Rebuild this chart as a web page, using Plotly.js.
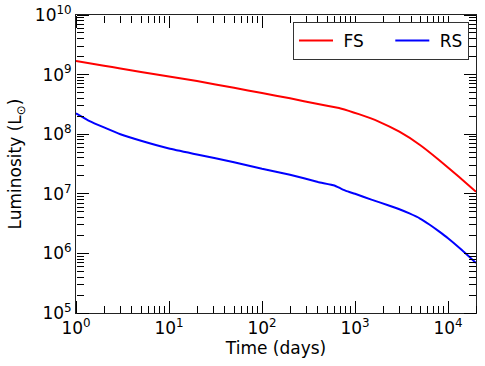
<!DOCTYPE html>
<html>
<head>
<meta charset="utf-8">
<script src="https://cdn.plot.ly/plotly-3.0.1.min.js"></script>
<style>html,body{margin:0;padding:0;background:#fff;}#chart{width:485px;height:366px;}#ov{position:absolute;left:80px;top:120px;width:10px;height:10px;pointer-events:none;}</style>
</head>
<body>
<div id="chart"></div>
<div id="ov"></div>
<script>
// Forward shock (FS): time in days and luminosity in L_sun
const fsDays = [1, 2, 3, 5, 10, 20, 50, 100, 200, 400, 630, 700, 1100, 1800, 3000, 5000, 8000, 13000, 20000];
const fsLum = [1.70e9, 1.41e9, 1.27e9, 1.11e9, 9.3e8, 7.8e8, 6.0e8, 4.9e8, 4.0e8, 3.2e8, 2.8e8, 2.7e8, 2.17e8, 1.63e8, 1.10e8, 6.6e7, 3.7e7, 1.95e7, 1.08e7];
// Reverse shock (RS)
const rsDays = [1, 1.4, 2, 3, 5, 10, 20, 50, 100, 200, 400, 600, 700, 800, 1000, 1500, 2350, 3000, 3850, 5000, 6300, 8000, 10000, 14000, 20000];
const rsLum = [2.24e8, 1.66e8, 1.30e8, 1.0e8, 7.76e7, 5.75e7, 4.57e7, 3.39e7, 2.63e7, 2.09e7, 1.58e7, 1.38e7, 1.23e7, 1.12e7, 1.0e7, 8.0e6, 6.3e6, 5.5e6, 4.68e6, 3.85e6, 3.05e6, 2.34e6, 1.80e6, 1.15e6, 6.9e5];

const seriesNames = ["FS", "RS"];
const xTickVals = [1, 10, 100, 1000, 10000];
const xTickText = ["10<sup>0</sup>", "10<sup>1</sup>", "10<sup>2</sup>", "10<sup>3</sup>", "10<sup>4</sup>"];
const yTickVals = [1e5, 1e6, 1e7, 1e8, 1e9, 1e10];
const yTickText = ["10<sup>5</sup>", "10<sup>6</sup>", "10<sup>7</sup>", "10<sup>8</sup>", "10<sup>9</sup>", "10<sup>10</sup>"];

const font = {family: "DejaVu Sans, sans-serif", color: "#000"};
const xRange = [0, Math.log10(20000)];
const yRange = [5, 10];
const tickColor = "#000";

const traces = [
  {x: fsDays, y: fsLum, name: "\u00a0" + seriesNames[0] + "\u00a0\u00a0\u00a0\u00a0", mode: "lines", line: {color: "#ff0000", width: 2, shape: "spline", smoothing: 0.4}},
  {x: rsDays, y: rsLum, name: "\u00a0" + seriesNames[1], mode: "lines", line: {color: "#0000ff", width: 2, shape: "spline", smoothing: 0.4}},
  // invisible helpers so the tick-only axes are drawn
  {x: fsDays, y: fsLum, xaxis: "x2", yaxis: "y", mode: "lines", line: {width: 0}, showlegend: false, hoverinfo: "skip"},
  {x: fsDays, y: fsLum, xaxis: "x3", yaxis: "y", mode: "lines", line: {width: 0}, showlegend: false, hoverinfo: "skip"},
  {x: fsDays, y: fsLum, xaxis: "x", yaxis: "y2", mode: "lines", line: {width: 0}, showlegend: false, hoverinfo: "skip"},
  {x: fsDays, y: fsLum, xaxis: "x", yaxis: "y3", mode: "lines", line: {width: 0}, showlegend: false, hoverinfo: "skip"}
];

// tick-only axes: their outside ticks point into the plot from each frame edge
function tickAxis(extra) {
  return Object.assign({
    type: "log", showgrid: false, showticklabels: false,
    anchor: "free", ticks: "outside", ticklen: 12, tickcolor: tickColor,
    minor: {ticks: "outside", ticklen: 7, tickcolor: tickColor, dtick: "D1"}
  }, extra);
}

const layout = {
  width: 485,
  height: 366,
  margin: {l: 76, r: 9, t: 15, b: 53},
  paper_bgcolor: "#fff",
  plot_bgcolor: "#fff",
  font: font,
  showlegend: true,
  xaxis: {
    type: "log", range: xRange, showgrid: false, zeroline: false,
    showline: true, mirror: true, linecolor: "#222", linewidth: 1,
    ticks: "", tickmode: "array", tickvals: xTickVals, ticktext: xTickText,
    tickfont: Object.assign({size: 17}, font),
    title: {text: "Time (days)", font: Object.assign({size: 17}, font), standoff: 3}
  },
  yaxis: {
    type: "log", range: yRange, showgrid: false, zeroline: false,
    showline: true, mirror: true, linecolor: "#222", linewidth: 1,
    ticks: "", tickmode: "array", tickvals: yTickVals, ticktext: yTickText,
    tickfont: Object.assign({size: 17}, font),
    title: {text: "Luminosity (L<sub>⊙</sub>)", font: Object.assign({size: 17}, font), standoff: 8}
  },
  xaxis2: tickAxis({overlaying: "x", matches: "x", range: xRange, side: "top", position: 0}),
  xaxis3: tickAxis({overlaying: "x", matches: "x", range: xRange, side: "bottom", position: 1}),
  yaxis2: tickAxis({overlaying: "y", matches: "y", range: yRange, side: "right", position: 0, dtick: 1}),
  yaxis3: tickAxis({overlaying: "y", matches: "y", range: yRange, side: "left", position: 1, dtick: 1}),
  legend: {
    orientation: "h",
    x: 0.9825, xanchor: "right",
    y: 0.9765, yanchor: "top",
    bgcolor: "#fff",
    bordercolor: "#333",
    borderwidth: 1,
    itemwidth: 34,
    font: Object.assign({size: 17}, font)
  }
};

Plotly.newPlot("chart", traces, layout, {staticPlot: true}).then(function () {
  const el = document.elementFromPoint(80, 75);
  const t = document.querySelector('path.x2tick');
  if (t) getComputedStyle(t).stroke;
  document.getElementById('ov').textContent = '';
});
</script>
</body>
</html>
